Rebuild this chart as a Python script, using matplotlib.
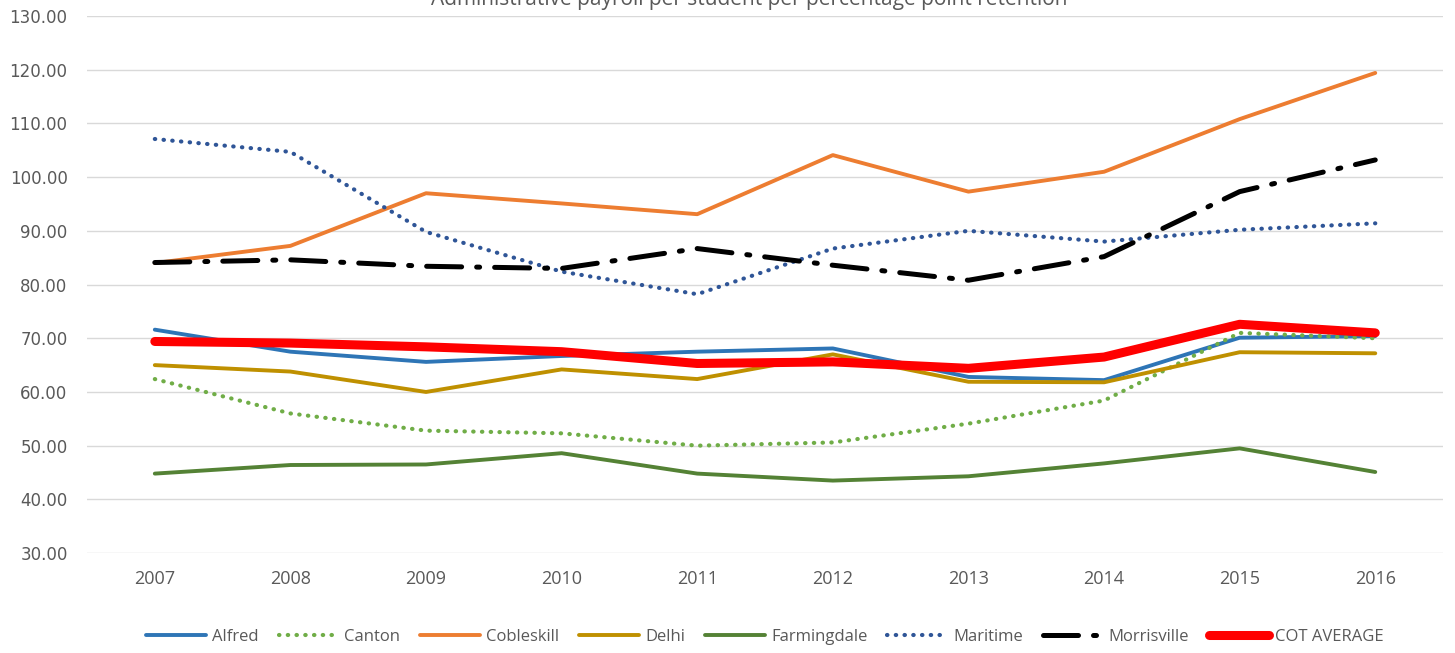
import matplotlib
matplotlib.use("Agg")
import matplotlib.pyplot as plt

years = ["2007", "2008", "2009", "2010", "2011", "2012", "2013", "2014", "2015", "2016"]
alfred = [71.6, 67.5, 65.6, 66.7, 67.5, 68.1, 62.8, 62.2, 70.1, 70.4]
canton = [62.4, 56.0, 52.8, 52.3, 50.0, 50.6, 54.1, 58.4, 71.0, 70.0]
cobleskill = [84.0, 87.2, 97.0, 95.1, 93.1, 104.1, 97.3, 101.0, 110.8, 119.4]
delhi = [65.0, 63.8, 60.0, 64.2, 62.4, 67.0, 61.9, 61.8, 67.4, 67.2]
farmingdale = [44.8, 46.4, 46.5, 48.6, 44.8, 43.5, 44.3, 46.7, 49.5, 45.1]
maritime = [107.1, 104.7, 89.8, 82.4, 78.2, 86.7, 90.0, 88.0, 90.2, 91.4]
morrisville = [84.1, 84.6, 83.4, 83.0, 86.7, 83.6, 80.8, 85.2, 97.3, 103.2]
cot_average = [69.4, 69.1, 68.4, 67.5, 65.3, 65.6, 64.4, 66.5, 72.6, 71.0]

title = "Administrative payroll per student per percentage point retention"
yticks = [30, 40, 50, 60, 70, 80, 90, 100, 110, 120, 130]

plt.rcParams['font.family'] = ['Open Sans', 'DejaVu Sans']
txt = '#595959'

fig = plt.figure(figsize=(14.55, 6.53), dpi=100)
ax = fig.add_axes([0.0598, 0.153, 0.932, 0.8225])

x = list(range(len(years)))
series = [
    ("Alfred", alfred, dict(color='#2e75b6', lw=2.8, ls='-', solid_capstyle='round')),
    ("Canton", canton, dict(color='#70ad47', lw=3.0, ls=(0, (0.1, 2.0)), dash_capstyle='round')),
    ("Cobleskill", cobleskill, dict(color='#ed7d31', lw=2.8, ls='-', solid_capstyle='round')),
    ("Delhi", delhi, dict(color='#bf9000', lw=2.8, ls='-', solid_capstyle='round')),
    ("Farmingdale", farmingdale, dict(color='#548235', lw=2.8, ls='-', solid_capstyle='round')),
    ("Maritime", maritime, dict(color='#2f5597', lw=3.0, ls=(0, (0.1, 2.0)), dash_capstyle='round')),
    ("Morrisville", morrisville, dict(color='black', lw=3.6, ls=(0, (7, 3, 0.6, 3)), dash_capstyle='round')),
    ("COT AVERAGE", cot_average, dict(color='#ff0000', lw=6.5, ls='-', solid_capstyle='round')),
]
for name, vals, st in series:
    ax.plot(x, vals, label=name, **st)

ax.set_xlim(-0.5, len(years) - 0.5)
ax.set_ylim(30, 130)
ax.set_yticks(yticks)
ax.set_yticklabels([f"{v:.2f}" for v in yticks], color=txt, fontsize=12,
                   family=['DejaVu Sans'])
ax.set_xticks(x)
ax.set_xticklabels(years, color=txt, fontsize=13)
ax.tick_params(axis='y', length=0, pad=14)
ax.tick_params(axis='x', length=0, pad=12)
ax.grid(axis='y', color='#d9d9d9', lw=1.0)
ax.set_axisbelow(True)
for s in ax.spines.values():
    s.set_visible(False)

fig.text(0.515, 1.0, title, ha='center', va='center', fontsize=15, color=txt)

leg = ax.legend(loc='center', bbox_to_anchor=(0.5 * (0.0598 + 0.9918), 0.025),
                bbox_transform=fig.transFigure, ncol=8, frameon=False,
                fontsize=12, handlelength=3.6, columnspacing=1.2, handletextpad=0.35)
for t in leg.get_texts():
    t.set_color(txt)

fig.savefig("out.png", dpi=100, facecolor='white')
